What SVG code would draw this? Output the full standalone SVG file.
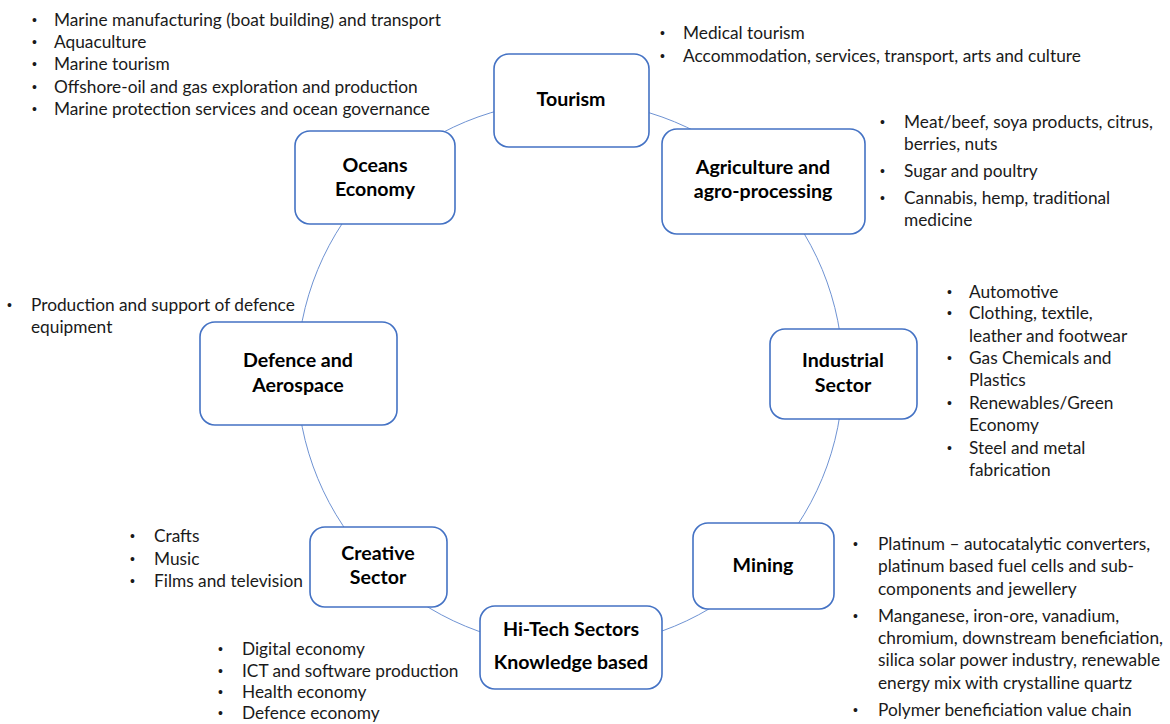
<svg xmlns="http://www.w3.org/2000/svg" width="1170" height="724" viewBox="0 0 1170 724">
<style>
.bg{fill:#ffffff}
.ring{fill:none;stroke:#6f93d3;stroke-width:1}
.box{fill:#ffffff;stroke:#4472c4;stroke-width:1.6}
.lbl{font-family:Lato,"Liberation Sans",sans-serif;font-size:19.6px;font-weight:bold;fill:#000;text-anchor:middle}
.t{font-family:Lato,"Liberation Sans",sans-serif;font-size:17.3px;fill:#1a1a1a}
.b{font-family:"Liberation Sans",sans-serif;font-size:14px;fill:#1a1a1a}
</style>
<rect class="bg" x="0" y="0" width="1170" height="724"/>
<g id="connectors">
<circle class="ring" cx="570" cy="374" r="273"/>
</g>
<g id="tourism">
<rect class="box" x="494" y="54" width="155" height="93" rx="15"/>
<text class="lbl" x="571" y="106">Tourism</text>
</g>
<g id="agriculture">
<rect class="box" x="662" y="129" width="203" height="105" rx="15"/>
<text class="lbl" x="763" y="174">Agriculture and</text>
<text class="lbl" x="763" y="198">agro-processing</text>
</g>
<g id="oceans">
<rect class="box" x="295" y="131" width="160" height="93" rx="15"/>
<text class="lbl" x="375" y="172">Oceans</text>
<text class="lbl" x="375" y="196">Economy</text>
</g>
<g id="defence">
<rect class="box" x="200" y="322" width="197" height="103" rx="15"/>
<text class="lbl" x="298" y="367">Defence and</text>
<text class="lbl" x="298" y="392">Aerospace</text>
</g>
<g id="industrial">
<rect class="box" x="770" y="329" width="147" height="90" rx="15"/>
<text class="lbl" x="843" y="367">Industrial</text>
<text class="lbl" x="843" y="392">Sector</text>
</g>
<g id="mining">
<rect class="box" x="693" y="523" width="141" height="86" rx="15"/>
<text class="lbl" x="763" y="572">Mining</text>
</g>
<g id="creative">
<rect class="box" x="310" y="527" width="137" height="80" rx="15"/>
<text class="lbl" x="378" y="560">Creative</text>
<text class="lbl" x="378" y="584">Sector</text>
</g>
<g id="hitech">
<rect class="box" x="480" y="606" width="182" height="83" rx="15"/>
<text class="lbl" x="571" y="636">Hi-Tech Sectors</text>
<text class="lbl" x="571" y="669">Knowledge based</text>
</g>
<g id="oceans-list">
<text class="b" x="32" y="25">•</text><text class="t" x="54" y="26">Marine manufacturing (boat building) and transport</text>
<text class="b" x="32" y="47">•</text><text class="t" x="54" y="48">Aquaculture</text>
<text class="b" x="32" y="69">•</text><text class="t" x="54" y="70">Marine tourism</text>
<text class="b" x="32" y="92">•</text><text class="t" x="54" y="93">Offshore-oil and gas exploration and production</text>
<text class="b" x="32" y="114">•</text><text class="t" x="54" y="115">Marine protection services and ocean governance</text>
</g>
<g id="tourism-list">
<text class="b" x="660" y="38">•</text><text class="t" x="683" y="39">Medical tourism</text>
<text class="b" x="660" y="61">•</text><text class="t" x="683" y="62">Accommodation, services, transport, arts and culture</text>
</g>
<g id="agriculture-list">
<text class="b" x="880" y="127">•</text><text class="t" x="904" y="128">Meat/beef, soya products, citrus,</text>
<text class="t" x="904" y="150">berries, nuts</text>
<text class="b" x="880" y="176">•</text><text class="t" x="904" y="177">Sugar and poultry</text>
<text class="b" x="880" y="203">•</text><text class="t" x="904" y="204">Cannabis, hemp, traditional</text>
<text class="t" x="904" y="226">medicine</text>
</g>
<g id="industrial-list">
<text class="b" x="947" y="297">•</text><text class="t" x="969" y="298">Automotive</text>
<text class="b" x="947" y="318">•</text><text class="t" x="969" y="319">Clothing, textile,</text>
<text class="t" x="969" y="342">leather and footwear</text>
<text class="b" x="947" y="363">•</text><text class="t" x="969" y="364">Gas Chemicals and</text>
<text class="t" x="969" y="386">Plastics</text>
<text class="b" x="947" y="408">•</text><text class="t" x="969" y="409">Renewables/Green</text>
<text class="t" x="969" y="431">Economy</text>
<text class="b" x="947" y="453">•</text><text class="t" x="969" y="454">Steel and metal</text>
<text class="t" x="969" y="476">fabrication</text>
</g>
<g id="mining-list">
<text class="b" x="853" y="549">•</text><text class="t" x="878" y="550">Platinum – autocatalytic converters,</text>
<text class="t" x="878" y="572">platinum based fuel cells and sub-</text>
<text class="t" x="878" y="595">components and jewellery</text>
<text class="b" x="853" y="621">•</text><text class="t" x="878" y="622">Manganese, iron-ore, vanadium,</text>
<text class="t" x="878" y="644">chromium, downstream beneficiation,</text>
<text class="t" x="878" y="666">silica solar power industry, renewable</text>
<text class="t" x="878" y="689">energy mix with crystalline quartz</text>
<text class="b" x="853" y="715">•</text><text class="t" x="878" y="716">Polymer beneficiation value chain</text>
</g>
<g id="creative-list">
<text class="b" x="130" y="541">•</text><text class="t" x="154" y="542">Crafts</text>
<text class="b" x="130" y="564">•</text><text class="t" x="154" y="565">Music</text>
<text class="b" x="130" y="586">•</text><text class="t" x="154" y="587">Films and television</text>
</g>
<g id="hitech-list">
<text class="b" x="218" y="654">•</text><text class="t" x="242" y="655">Digital economy</text>
<text class="b" x="218" y="676">•</text><text class="t" x="242" y="677">ICT and software production</text>
<text class="b" x="218" y="697">•</text><text class="t" x="242" y="698">Health economy</text>
<text class="b" x="218" y="718">•</text><text class="t" x="242" y="719">Defence economy</text>
</g>
<g id="defence-list">
<text class="b" x="7" y="310">•</text><text class="t" x="31" y="311">Production and support of defence</text>
<text class="t" x="31" y="333">equipment</text>
</g>
</svg>
